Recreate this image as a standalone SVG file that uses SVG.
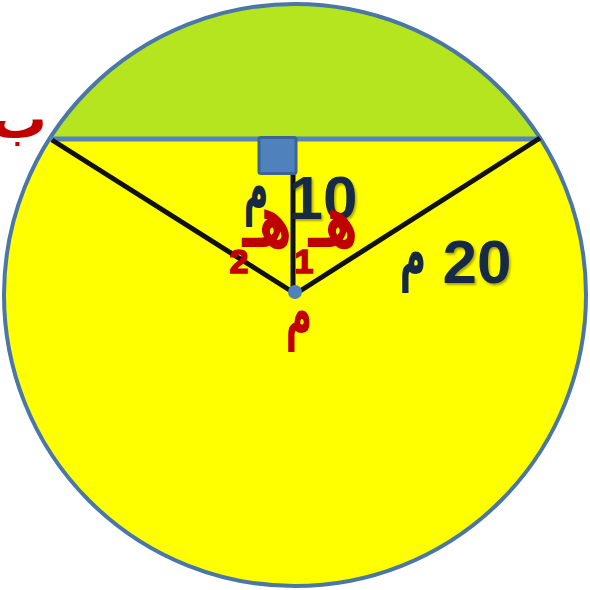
<svg xmlns="http://www.w3.org/2000/svg" width="590" height="590" viewBox="0 0 590 590">
<defs>
<filter id="sh" x="-20%" y="-20%" width="140%" height="140%">
<feDropShadow dx="1.5" dy="2" stdDeviation="1.2" flood-color="#000" flood-opacity="0.35"/>
</filter>
</defs>
<style>
.ar{font-family:"DejaVu Sans",sans-serif;font-weight:bold;text-anchor:middle}
.num{font-family:"Liberation Sans",Arial,sans-serif;font-weight:bold;text-anchor:middle}
.red{fill:#C00000}
.sub{stroke:#C00000;stroke-width:1.6}
.navy{fill:#152945}
.seg{stroke:#111;stroke-width:5;stroke-linecap:butt}
</style>
<rect width="590" height="590" fill="#fff"/>
<g id="circle">
<circle cx="295" cy="295" r="291" fill="#FFFF00"/>
<path d="M49.4,139 A291,291 0 0 1 540.6,139 Z" fill="#B5E51F"/>
<circle cx="295" cy="295" r="291" fill="none" stroke="#4A76A8" stroke-width="4"/>
</g>
<g id="connectors">
<line x1="49.4" y1="139" x2="540.6" y2="139" stroke="#5683BA" stroke-width="5"/>
<line class="seg" x1="52" y1="140" x2="291" y2="291"/>
<line class="seg" x1="540" y1="138" x2="300" y2="291"/>
<line class="seg" x1="293" y1="172" x2="293" y2="290"/>
</g>
<g id="right-angle">
<rect x="259" y="137.5" width="37" height="36" rx="2" fill="#4F81BD" stroke="#3C6596" stroke-width="3"/>
</g>
<g id="center">
<circle cx="295" cy="292" r="7" fill="#4F81BD"/>
</g>
<g id="labels">
<text class="ar red" x="19" y="138" font-size="56">ب</text>
<text class="ar red" x="587" y="128" font-size="52" style="text-anchor:start">أ</text>
<text class="ar red" font-size="50" transform="translate(299,335) scale(0.72,1.35)">م</text>
<text class="num navy" x="323" y="219" font-size="62" filter="url(#sh)">10</text>
<text class="ar navy" font-size="48" transform="translate(256,210) scale(0.7,1.4)">م</text>
<text class="num navy" x="477" y="283" font-size="62" filter="url(#sh)">20</text>
<text class="ar navy" font-size="48" transform="translate(413,276) scale(0.75,1.4)">م</text>
<text class="ar red" font-size="48" transform="translate(333,247) scale(1,1.55)">هـ</text>
<text class="num red sub" x="304" y="273" font-size="34">1</text>
<text class="ar red" font-size="48" transform="translate(267,247) scale(1,1.55)">هـ</text>
<text class="num red sub" x="239" y="273" font-size="34">2</text>
</g>
</svg>
